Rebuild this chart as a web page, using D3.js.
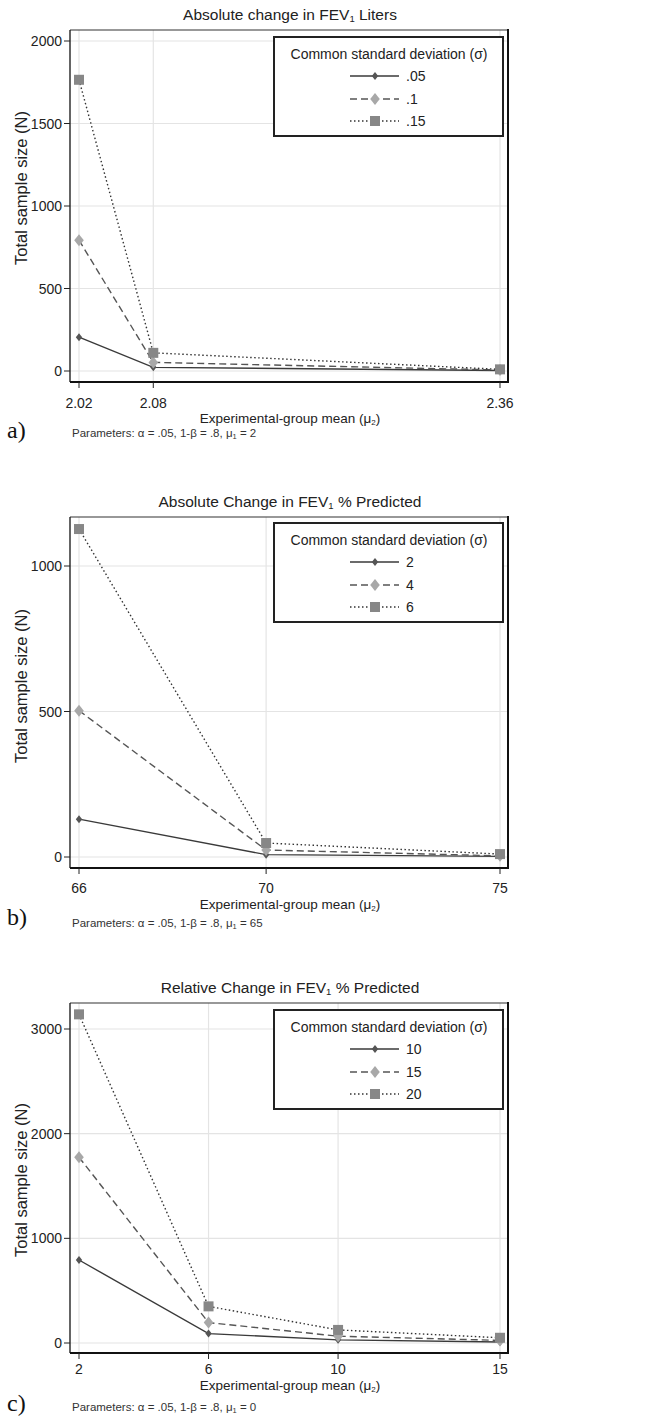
<!DOCTYPE html>
<html>
<head>
<meta charset="utf-8">
<script src="https://cdn.jsdelivr.net/npm/d3@7"></script>
<style>
  body { margin: 0; background: #fff; }
  svg { display: block; font-family: "Liberation Sans", Arial, sans-serif; }
</style>
</head>
<body>
<svg id="chart" width="654" height="1417"></svg>
<script>
// panel a: absolute change in FEV1 liters
const xA = [2.02, 2.08, 2.36];
const sigmaA = ['.05', '.1', '.15'];
const nA = [
  [205, 22, 3],
  [793, 52, 6],
  [1765, 110, 10]
];
const yTicksA = [0, 500, 1000, 1500, 2000];

// panel b: absolute change in FEV1 % predicted
const xB = [66, 70, 75];
const sigmaB = ['2', '4', '6'];
const nB = [
  [130, 8, 2],
  [503, 24, 4],
  [1127, 48, 10]
];
const yTicksB = [0, 500, 1000];

// panel c: relative change in FEV1 % predicted
const xC = [2, 6, 10, 15];
const sigmaC = ['10', '15', '20'];
const nC = [
  [793, 90, 30, 10],
  [1775, 195, 65, 25],
  [3140, 350, 125, 50]
];
const yTicksC = [0, 1000, 2000, 3000];

const svg = d3.select('#chart');

// series styles: solid/dark diamond, dashed/light diamond, dotted/grey square
const styles = [
  { dash: null, line: '#3a3a3a', marker: 'diamond', fill: '#555', size: 8 },
  { dash: '7,4', line: '#555', marker: 'diamond', fill: '#a8a8a8', size: 12 },
  { dash: '1.5,2.5', line: '#333', marker: 'square', fill: '#878787', size: 10 }
];

function drawMarker(g, x, y, st) {
  const s = st.size / 2;
  if (st.marker === 'diamond') {
    g.append('path')
      .attr('d', `M${x},${y - s}L${x + s * 0.8},${y}L${x},${y + s}L${x - s * 0.8},${y}Z`)
      .attr('fill', st.fill);
  } else {
    g.append('rect')
      .attr('x', x - s).attr('y', y - s)
      .attr('width', s * 2).attr('height', s * 2)
      .attr('fill', st.fill);
  }
}

function panel(cfg) {
  const left = 70, right = 508;
  const g = svg.append('g');

  const xScale = d3.scaleLinear()
    .domain([cfg.xs[0], cfg.xs[cfg.xs.length - 1]])
    .range([79, 500]);
  const topTick = cfg.yTicks[cfg.yTicks.length - 1];
  const yScale = d3.scaleLinear()
    .domain([0, topTick])
    .range([cfg.y0, cfg.yTop]);

  // grid
  g.selectAll('.hgrid').data(cfg.yTicks).enter().append('line')
    .attr('x1', left).attr('x2', right)
    .attr('y1', d => yScale(d)).attr('y2', d => yScale(d))
    .attr('stroke', '#e4e4e4').attr('stroke-width', 1.2);
  g.selectAll('.vgrid').data(cfg.xs).enter().append('line')
    .attr('x1', d => xScale(d)).attr('x2', d => xScale(d))
    .attr('y1', cfg.top).attr('y2', cfg.bottom)
    .attr('stroke', '#e4e4e4').attr('stroke-width', 1.2);

  // frame
  g.append('line').attr('x1', left).attr('x2', right).attr('y1', cfg.top).attr('y2', cfg.top)
    .attr('stroke', '#333').attr('stroke-width', 1.2);
  g.append('line').attr('x1', left).attr('x2', left).attr('y1', cfg.top).attr('y2', cfg.bottom)
    .attr('stroke', '#111').attr('stroke-width', 1.3);
  g.append('line').attr('x1', right).attr('x2', right).attr('y1', cfg.top - 1).attr('y2', cfg.bottom + 1)
    .attr('stroke', '#111').attr('stroke-width', 2);
  g.append('line').attr('x1', left).attr('x2', right + 1).attr('y1', cfg.bottom).attr('y2', cfg.bottom)
    .attr('stroke', '#111').attr('stroke-width', 2.2);

  // y axis ticks
  g.selectAll('.ytick').data(cfg.yTicks).enter().append('line')
    .attr('x1', left - 6).attr('x2', left)
    .attr('y1', d => yScale(d)).attr('y2', d => yScale(d))
    .attr('stroke', '#222');
  g.selectAll('.ylab').data(cfg.yTicks).enter().append('text')
    .attr('x', left - 8).attr('y', d => yScale(d) + 5)
    .attr('text-anchor', 'end').attr('font-size', 14).attr('fill', '#222')
    .text(d => d);

  // x axis ticks
  g.selectAll('.xtick').data(cfg.xs).enter().append('line')
    .attr('x1', d => xScale(d)).attr('x2', d => xScale(d))
    .attr('y1', cfg.bottom).attr('y2', cfg.bottom + 6)
    .attr('stroke', '#222');
  g.selectAll('.xlab').data(cfg.xs).enter().append('text')
    .attr('x', d => xScale(d)).attr('y', cfg.bottom + cfg.tickOff)
    .attr('text-anchor', 'middle').attr('font-size', 14).attr('fill', '#222')
    .text(d => cfg.fmt(d));

  // series
  const line = d3.line().x(d => xScale(d[0])).y(d => yScale(d[1]));
  cfg.ns.forEach((vals, i) => {
    const st = styles[i];
    const pts = cfg.xs.map((x, j) => [x, vals[j]]);
    g.append('path').datum(pts)
      .attr('d', line).attr('fill', 'none')
      .attr('stroke', st.line).attr('stroke-width', 1.4)
      .attr('stroke-dasharray', st.dash);
  });
  cfg.ns.forEach((vals, i) => {
    cfg.xs.forEach((x, j) => drawMarker(g, xScale(x), yScale(vals[j]), styles[i]));
  });

  // title
  const title = g.append('text')
    .attr('x', 290).attr('y', cfg.top - 10)
    .attr('text-anchor', 'middle').attr('font-size', 15.5).attr('fill', '#222');
  title.append('tspan').text(cfg.title[0]);
  title.append('tspan').attr('font-size', 9.5).attr('dy', 2).text('1');
  title.append('tspan').attr('dy', -2).text(cfg.title[1]);

  // axis titles
  g.append('text')
    .attr('transform', `translate(27,${cfg.yLabelMid}) rotate(-90)`)
    .attr('text-anchor', 'middle').attr('font-size', 16.5).attr('fill', '#222')
    .text('Total sample size (N)');
  const xt = g.append('text')
    .attr('x', 290).attr('y', cfg.bottom + cfg.xLabelOff)
    .attr('text-anchor', 'middle').attr('font-size', 13.5).attr('fill', '#222');
  xt.append('tspan').text('Experimental-group mean (μ');
  xt.append('tspan').attr('font-size', 8).attr('dy', 2).text('2');
  xt.append('tspan').attr('dy', -2).text(')');

  // parameters note
  const pn = g.append('text')
    .attr('x', 72).attr('y', cfg.bottom + cfg.paramOff)
    .attr('font-size', 11.5).attr('fill', '#333');
  pn.append('tspan').text('Parameters: α = .05, 1-β = .8, μ');
  pn.append('tspan').attr('font-size', 7.5).attr('dy', 2).text('1');
  pn.append('tspan').attr('dy', -2).text(' = ' + cfg.mu1);

  g.append('text')
    .attr('x', 7).attr('y', cfg.bottom + cfg.letterOff)
    .attr('font-family', '"Liberation Serif", "Times New Roman", serif')
    .attr('font-size', 24).attr('fill', '#111')
    .text(cfg.letter);

  // legend
  const lt = cfg.legendTop;
  g.append('rect')
    .attr('x', 274).attr('y', lt).attr('width', 229).attr('height', 99)
    .attr('fill', '#fff').attr('stroke', '#222').attr('stroke-width', 2);
  g.append('text')
    .attr('x', 389).attr('y', lt + 22)
    .attr('text-anchor', 'middle').attr('font-size', 14).attr('fill', '#222')
    .text('Common standard deviation (σ)');
  const rows = [44, 67, 89];
  cfg.sigmas.forEach((s, i) => {
    const st = styles[i];
    const yy = lt + rows[i] - 5;
    g.append('line')
      .attr('x1', 350).attr('x2', 399).attr('y1', yy).attr('y2', yy)
      .attr('stroke', st.line).attr('stroke-width', 1.4)
      .attr('stroke-dasharray', st.dash);
    drawMarker(g, 375, yy, st);
    g.append('text')
      .attr('x', 406).attr('y', lt + rows[i])
      .attr('font-size', 14).attr('fill', '#222')
      .text(s);
  });
}

panel({
  xs: xA, ns: nA, sigmas: sigmaA, yTicks: yTicksA,
  top: 30, bottom: 382, y0: 371, yTop: 41,
  fmt: d => d.toFixed(2),
  title: ['Absolute change in FEV', ' Liters'],
  yLabelMid: 188, tickOff: 26, xLabelOff: 41, paramOff: 55, letterOff: 56,
  mu1: '2', letter: 'a)', legendTop: 37
});

panel({
  xs: xB, ns: nB, sigmas: sigmaB, yTicks: yTicksB,
  top: 517, bottom: 868, y0: 857, yTop: 566,
  fmt: d => d,
  title: ['Absolute Change in FEV', ' % Predicted'],
  yLabelMid: 686, tickOff: 25, xLabelOff: 41, paramOff: 59, letterOff: 57,
  mu1: '65', letter: 'b)', legendTop: 523
});

panel({
  xs: xC, ns: nC, sigmas: sigmaC, yTicks: yTicksC,
  top: 1003, bottom: 1353, y0: 1343, yTop: 1029,
  fmt: d => d,
  title: ['Relative Change in FEV', ' % Predicted'],
  yLabelMid: 1180, tickOff: 21, xLabelOff: 37, paramOff: 58, letterOff: 58,
  mu1: '0', letter: 'c)', legendTop: 1010
});
</script>
</body>
</html>
